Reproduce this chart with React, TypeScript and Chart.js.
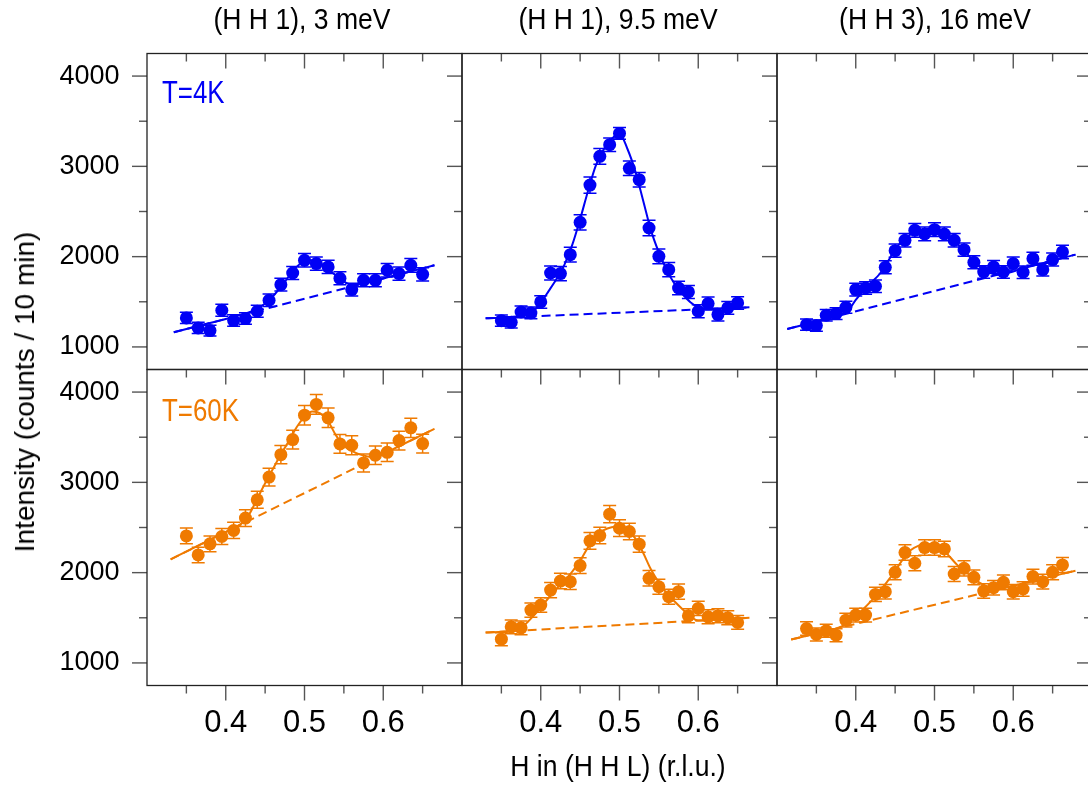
import React, { useEffect, useRef } from 'react';
import { Chart, registerables } from 'chart.js';

Chart.register(...registerables);

// ---------- data ----------
const H_3MEV = [0.35, 0.365, 0.38, 0.395, 0.41, 0.425, 0.44, 0.455, 0.47, 0.485, 0.5, 0.515, 0.53, 0.545, 0.56, 0.575, 0.59, 0.605, 0.62, 0.635, 0.65];
const H_9MEV = [0.35, 0.3625, 0.375, 0.3875, 0.4, 0.4125, 0.425, 0.4375, 0.45, 0.4625, 0.475, 0.4875, 0.5, 0.5125, 0.525, 0.5375, 0.55, 0.5625, 0.575, 0.5875, 0.6, 0.6125, 0.625, 0.6375, 0.65];
const H_16MEV = [0.3375, 0.35, 0.3625, 0.375, 0.3875, 0.4, 0.4125, 0.425, 0.4375, 0.45, 0.4625, 0.475, 0.4875, 0.5, 0.5125, 0.525, 0.5375, 0.55, 0.5625, 0.575, 0.5875, 0.6, 0.6125, 0.625, 0.6375, 0.65, 0.6625];

const I_4K_3MEV = [1321, 1210, 1181, 1406, 1292, 1314, 1395, 1517, 1690, 1819, 1959, 1923, 1886, 1760, 1635, 1738, 1738, 1849, 1812, 1904, 1804];
const E_4K_3MEV = [62, 62, 60, 66, 64, 64, 66, 68, 70, 72, 75, 74, 74, 72, 70, 72, 72, 74, 74, 76, 74];
const I_4K_9MEV = [1291, 1273, 1387, 1376, 1498, 1819, 1812, 2022, 2380, 2793, 3111, 3240, 3365, 2978, 2852, 2317, 2004, 1856, 1653, 1609, 1395, 1480, 1358, 1432, 1487];
const E_4K_9MEV = [62, 62, 65, 65, 70, 78, 78, 82, 85, 90, 88, 75, 65, 80, 80, 85, 82, 78, 75, 72, 72, 72, 70, 70, 70];
const I_4K_16MEV = [1247, 1236, 1351, 1369, 1439, 1635, 1653, 1672, 1882, 2066, 2181, 2292, 2251, 2299, 2251, 2181, 2077, 1937, 1830, 1886, 1830, 1923, 1827, 1978, 1856, 1967, 2052];
const E_4K_16MEV = [62, 62, 64, 64, 66, 70, 70, 70, 72, 74, 75, 76, 76, 76, 76, 75, 74, 72, 70, 70, 70, 72, 70, 72, 70, 72, 74];

const I_60K_3MEV = [2407, 2196, 2319, 2400, 2467, 2604, 2807, 3059, 3307, 3474, 3744, 3863, 3715, 3426, 3411, 3215, 3300, 3333, 3463, 3604, 3430];
const E_60K_3MEV = [88, 86, 88, 88, 90, 92, 95, 98, 102, 104, 108, 110, 108, 104, 104, 100, 102, 102, 104, 106, 104];
const I_60K_9MEV = [1263, 1400, 1389, 1585, 1641, 1807, 1907, 1900, 2078, 2352, 2411, 2648, 2493, 2456, 2315, 1937, 1844, 1733, 1789, 1522, 1604, 1511, 1522, 1500, 1448];
const E_60K_9MEV = [72, 76, 76, 80, 80, 84, 86, 86, 88, 92, 92, 95, 92, 92, 90, 86, 84, 82, 84, 78, 80, 78, 78, 78, 76];
const I_60K_16MEV = [1381, 1315, 1356, 1307, 1474, 1530, 1530, 1759, 1789, 2004, 2222, 2104, 2278, 2278, 2263, 1985, 2048, 1948, 1796, 1833, 1893, 1789, 1819, 1956, 1900, 2004, 2085];
const E_60K_16MEV = [74, 72, 72, 72, 76, 76, 76, 80, 80, 84, 86, 84, 86, 86, 86, 84, 84, 82, 80, 80, 82, 80, 80, 82, 82, 84, 84];

// fit curves
const FIT_H_4K_3MEV = [0.334, 0.36, 0.38, 0.40, 0.42, 0.43, 0.44, 0.45, 0.46, 0.47, 0.48, 0.49, 0.50, 0.51, 0.52, 0.53, 0.54, 0.55, 0.56, 0.57, 0.58, 0.60, 0.62, 0.665];
const FIT_I_4K_3MEV = [1162, 1220, 1265, 1310, 1358, 1385, 1420, 1480, 1560, 1665, 1780, 1885, 1950, 1960, 1925, 1860, 1790, 1725, 1690, 1697, 1713, 1758, 1803, 1904];
const FIT_H_4K_9MEV = [0.33, 0.36, 0.38, 0.39, 0.40, 0.41, 0.42, 0.43, 0.44, 0.45, 0.46, 0.47, 0.48, 0.49, 0.50, 0.51, 0.52, 0.53, 0.54, 0.55, 0.56, 0.57, 0.58, 0.59, 0.60, 0.61, 0.63, 0.665];
const FIT_I_4K_9MEV = [1317, 1330, 1352, 1390, 1490, 1618, 1752, 1908, 2130, 2415, 2728, 3012, 3188, 3304, 3362, 3195, 2948, 2622, 2291, 2046, 1851, 1698, 1586, 1496, 1440, 1416, 1425, 1439];
const FIT_H_4K_16MEV = [0.313, 0.35, 0.37, 0.38, 0.39, 0.40, 0.41, 0.42, 0.43, 0.44, 0.45, 0.46, 0.47, 0.48, 0.49, 0.50, 0.51, 0.52, 0.53, 0.54, 0.55, 0.56, 0.57, 0.58, 0.62, 0.679];
const FIT_I_4K_16MEV = [1199, 1282, 1327, 1350, 1400, 1520, 1625, 1715, 1805, 1935, 2080, 2180, 2250, 2290, 2305, 2305, 2272, 2215, 2135, 2045, 1948, 1872, 1820, 1800, 1889, 2022];
const FIT_H_60K_3MEV = [0.33, 0.36, 0.38, 0.40, 0.41, 0.42, 0.43, 0.44, 0.45, 0.46, 0.47, 0.48, 0.49, 0.50, 0.51, 0.52, 0.53, 0.54, 0.55, 0.56, 0.57, 0.58, 0.59, 0.60, 0.62, 0.665];
const FIT_I_60K_3MEV = [2148, 2277, 2364, 2450, 2495, 2545, 2650, 2820, 2990, 3150, 3310, 3455, 3610, 3725, 3785, 3765, 3675, 3520, 3405, 3350, 3310, 3287, 3275, 3314, 3400, 3593];
const FIT_H_60K_9MEV = [0.33, 0.36, 0.37, 0.38, 0.39, 0.40, 0.41, 0.42, 0.43, 0.44, 0.45, 0.46, 0.47, 0.48, 0.49, 0.50, 0.51, 0.52, 0.53, 0.54, 0.55, 0.56, 0.57, 0.58, 0.59, 0.60, 0.62, 0.665];
const FIT_I_60K_9MEV = [1337, 1350, 1365, 1425, 1515, 1611, 1722, 1822, 1910, 2012, 2130, 2280, 2400, 2470, 2503, 2510, 2466, 2380, 2220, 2035, 1890, 1770, 1680, 1595, 1515, 1470, 1480, 1500];
const FIT_H_60K_16MEV = [0.318, 0.35, 0.37, 0.38, 0.39, 0.40, 0.41, 0.42, 0.43, 0.44, 0.45, 0.46, 0.47, 0.48, 0.49, 0.50, 0.51, 0.52, 0.53, 0.54, 0.55, 0.56, 0.57, 0.58, 0.60, 0.62, 0.679];
const FIT_I_60K_16MEV = [1259, 1327, 1369, 1395, 1445, 1520, 1600, 1690, 1790, 1900, 2020, 2150, 2250, 2300, 2318, 2312, 2265, 2170, 2075, 2005, 1937, 1875, 1838, 1818, 1855, 1897, 2022];

// linear backgrounds (dashed)
const BG_H_4K_3MEV = [0.334, 0.665];
const BG_I_4K_3MEV = [1162, 1904];
const BG_H_4K_9MEV = [0.33, 0.665];
const BG_I_4K_9MEV = [1317, 1439];
const BG_H_4K_16MEV = [0.313, 0.679];
const BG_I_4K_16MEV = [1199, 2022];
const BG_H_60K_3MEV = [0.33, 0.665];
const BG_I_60K_3MEV = [2148, 3593];
const BG_H_60K_9MEV = [0.33, 0.665];
const BG_I_60K_9MEV = [1337, 1500];
const BG_H_60K_16MEV = [0.318, 0.679];
const BG_I_60K_16MEV = [1259, 2022];

const X_MAJOR = [0.4, 0.5, 0.6];
const X_MINOR = [0.35, 0.45, 0.55, 0.65];
const Y_MAJOR = [1000, 2000, 3000, 4000];
const Y_MINOR = [1500, 2500, 3500];
const TITLES = ['(H H 1), 3 meV', '(H H 1), 9.5 meV', '(H H 3), 16 meV'];
const TEMPS = ['T=4K', 'T=60K'];

// ---------- styling / layout ----------
const BLUE = '#0000f5';
const ORANGE = '#ef7a00';
const FONT = "'Liberation Sans', Arial, sans-serif";
const CW = 1100;
const CH = 785;
const PANEL_LEFT = [147, 462, 777];
const PANEL_TOP = [53.5, 369.5];
const PW = 315;
const PH = 316;

const zip = (xs: number[], ys: number[]) => xs.map((x, i) => ({ x, y: ys[i] }));

type PanelCfg = {
  row: number; col: number; color: string;
  h: number[]; i: number[]; e: number[];
  fh: number[]; fi: number[]; bh: number[]; bi: number[];
};

const PANELS: PanelCfg[] = [
  { row: 0, col: 0, color: BLUE, h: H_3MEV, i: I_4K_3MEV, e: E_4K_3MEV, fh: FIT_H_4K_3MEV, fi: FIT_I_4K_3MEV, bh: BG_H_4K_3MEV, bi: BG_I_4K_3MEV },
  { row: 0, col: 1, color: BLUE, h: H_9MEV, i: I_4K_9MEV, e: E_4K_9MEV, fh: FIT_H_4K_9MEV, fi: FIT_I_4K_9MEV, bh: BG_H_4K_9MEV, bi: BG_I_4K_9MEV },
  { row: 0, col: 2, color: BLUE, h: H_16MEV, i: I_4K_16MEV, e: E_4K_16MEV, fh: FIT_H_4K_16MEV, fi: FIT_I_4K_16MEV, bh: BG_H_4K_16MEV, bi: BG_I_4K_16MEV },
  { row: 1, col: 0, color: ORANGE, h: H_3MEV, i: I_60K_3MEV, e: E_60K_3MEV, fh: FIT_H_60K_3MEV, fi: FIT_I_60K_3MEV, bh: BG_H_60K_3MEV, bi: BG_I_60K_3MEV },
  { row: 1, col: 1, color: ORANGE, h: H_9MEV, i: I_60K_9MEV, e: E_60K_9MEV, fh: FIT_H_60K_9MEV, fi: FIT_I_60K_9MEV, bh: BG_H_60K_9MEV, bi: BG_I_60K_9MEV },
  { row: 1, col: 2, color: ORANGE, h: H_16MEV, i: I_60K_16MEV, e: E_60K_16MEV, fh: FIT_H_60K_16MEV, fi: FIT_I_60K_16MEV, bh: BG_H_60K_16MEV, bi: BG_I_60K_16MEV },
];

function Panel({ cfg }: { cfg: PanelCfg }) {
  const ref = useRef<HTMLCanvasElement>(null);
  useEffect(() => {
    const { row, col, color } = cfg;
    const left = PANEL_LEFT[col];
    const top = PANEL_TOP[row];
    const bottomSpace = CH - top - PH;

    const errorBars = {
      id: 'errorBars',
      beforeDatasetsDraw(chart: any) {
        const { ctx, scales: { x, y } } = chart;
        ctx.save();
        ctx.strokeStyle = color;
        ctx.lineWidth = 1.5;
        cfg.h.forEach((hv, k) => {
          const px = x.getPixelForValue(hv);
          const y1 = y.getPixelForValue(cfg.i[k] + cfg.e[k]);
          const y2 = y.getPixelForValue(cfg.i[k] - cfg.e[k]);
          ctx.beginPath();
          ctx.moveTo(px, y1); ctx.lineTo(px, y2);
          ctx.moveTo(px - 6.5, y1); ctx.lineTo(px + 6.5, y1);
          ctx.moveTo(px - 6.5, y2); ctx.lineTo(px + 6.5, y2);
          ctx.stroke();
        });
        ctx.restore();
      },
    };

    const frame = {
      id: 'frame',
      afterDraw(chart: any) {
        const { ctx, chartArea: a, scales: { x, y } } = chart;
        ctx.save();
        const seg = (x1: number, y1: number, x2: number, y2: number) => {
          ctx.beginPath(); ctx.moveTo(x1, y1); ctx.lineTo(x2, y2); ctx.stroke();
        };
        ctx.strokeStyle = '#555';
        ctx.lineWidth = 1.4;
        const xt = (vals: number[], len: number) => vals.forEach((v) => {
          const px = x.getPixelForValue(v);
          seg(px, a.top, px, a.top + len);
          if (row === 1) seg(px, a.bottom, px, a.bottom + len);
        });
        const yt = (vals: number[], len: number) => vals.forEach((v) => {
          const py = y.getPixelForValue(v);
          seg(a.right - len, py, a.right, py);
          if (col === 0) seg(a.left - len, py, a.left, py);
        });
        xt(X_MAJOR, 15); xt(X_MINOR, 8);
        yt(Y_MAJOR, 15); yt(Y_MINOR, 8);
        ctx.strokeStyle = '#222';
        ctx.lineWidth = 1.3;
        ctx.strokeRect(a.left, a.top, a.right - a.left, a.bottom - a.top);
        ctx.restore();
      },
    };

    const chart = new Chart(ref.current as HTMLCanvasElement, {
      type: 'scatter',
      data: {
        datasets: [
          {
            data: zip(cfg.h, cfg.i),
            showLine: false,
            pointRadius: 6.5,
            pointHoverRadius: 6.5,
            pointBackgroundColor: color,
            pointBorderWidth: 0,
            borderColor: color,
          },
          {
            data: zip(cfg.fh, cfg.fi),
            showLine: true,
            pointRadius: 0,
            borderColor: color,
            borderWidth: 2,
            cubicInterpolationMode: 'monotone',
          },
          {
            data: zip(cfg.bh, cfg.bi),
            showLine: true,
            pointRadius: 0,
            borderColor: color,
            borderWidth: 2,
            borderDash: [9, 5],
          },
        ] as any,
      },
      options: {
        animation: false,
        responsive: false,
        maintainAspectRatio: false,
        devicePixelRatio: 1,
        events: [],
        layout: {
          padding: { left: 0, top, right: CW - left - PW, bottom: 0 },
        },
        plugins: { legend: { display: false }, tooltip: { enabled: false } },
        scales: {
          x: {
            type: 'linear',
            position: 'bottom',
            min: 0.3,
            max: 0.7,
            grid: { display: false, drawTicks: false },
            border: { display: false },
            afterBuildTicks: (s: any) => { s.ticks = X_MAJOR.map((v) => ({ value: v })); },
            afterFit: (s: any) => { s.height = bottomSpace; s.paddingLeft = 0; s.paddingRight = 0; },
            ticks: {
              display: row === 1,
              padding: 19,
              color: '#000',
              font: { family: FONT, size: 31 },
              callback: (v: any) => Number(v).toFixed(1),
              maxRotation: 0,
              minRotation: 0,
              autoSkip: false,
            },
          },
          y: {
            type: 'linear',
            position: 'left',
            min: 750,
            max: 4250,
            grid: { display: false, drawTicks: false },
            border: { display: false },
            afterBuildTicks: (s: any) => { s.ticks = Y_MAJOR.map((v) => ({ value: v })); },
            afterFit: (s: any) => { s.width = left; s.paddingTop = 0; s.paddingBottom = 0; },
            ticks: {
              display: col === 0,
              padding: 27.5,
              color: '#000',
              font: { family: FONT, size: 27 },
              callback: (v: any) => String(v),
              autoSkip: false,
            },
          },
        },
      } as any,
      plugins: [errorBars, frame],
    });
    return () => chart.destroy();
  }, []);
  return (
    <canvas
      ref={ref}
      width={CW}
      height={CH}
      style={{ position: 'absolute', left: 0, top: 0, width: CW, height: CH }}
    />
  );
}

export default function App() {
  const titleCenters = [302, 618, 935];
  return (
    <div
      style={{
        position: 'absolute', left: 0, top: 0, width: 1088, height: 785,
        overflow: 'hidden', background: '#fff', fontFamily: FONT, color: '#000',
      }}
    >
      {PANELS.map((p, k) => <Panel key={k} cfg={p} />)}
      {TITLES.map((t, k) => (
        <div
          key={t}
          style={{
            position: 'absolute', left: titleCenters[k], top: 4, fontSize: 30, lineHeight: '30px',
            whiteSpace: 'nowrap', transform: 'translateX(-50%) scaleX(0.885)',
          }}
        >
          {t}
        </div>
      ))}
      {TEMPS.map((t, k) => (
        <div
          key={t}
          style={{
            position: 'absolute', left: 162, top: k === 0 ? 77 : 395, fontSize: 31, lineHeight: '31px',
            whiteSpace: 'nowrap', color: k === 0 ? BLUE : ORANGE,
            transform: 'scaleX(0.835)', transformOrigin: 'left center',
          }}
        >
          {t}
        </div>
      ))}
      <div
        style={{
          position: 'absolute', left: 618, top: 751, fontSize: 30, lineHeight: '30px',
          whiteSpace: 'nowrap', transform: 'translateX(-50%) scaleX(0.885)',
        }}
      >
        H in (H H L) (r.l.u.)
      </div>
      <div
        style={{
          position: 'absolute', left: 25.3, top: 391.5, fontSize: 28, lineHeight: '28px',
          whiteSpace: 'nowrap', transform: 'translate(-50%, -50%) rotate(-90deg)',
        }}
      >
        Intensity (counts / 10 min)
      </div>
    </div>
  );
}
